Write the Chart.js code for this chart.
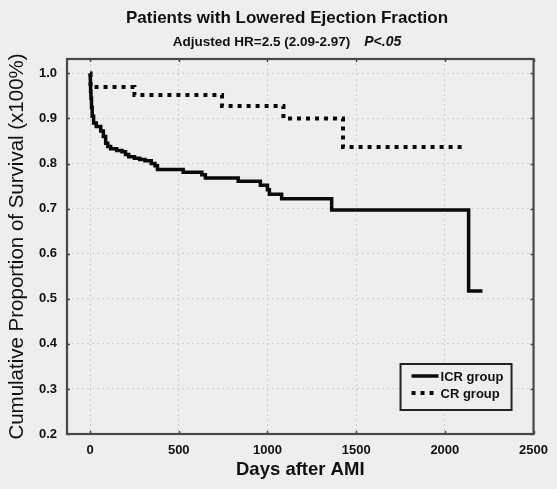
<!DOCTYPE html>
<html>
<head>
<meta charset="utf-8">
<script src="https://cdn.jsdelivr.net/npm/chart.js@4.4.1/dist/chart.umd.min.js"></script>
<style>
  html, body { margin: 0; padding: 0; background: #eeeeee; }
  canvas { display: block; }
</style>
</head>
<body>
<canvas id="km" width="557" height="489"></canvas>
<script>
// Kaplan-Meier survival, days after AMI
const icrDays = [0, 1, 2, 3, 5, 8, 12, 20, 35, 60, 75, 88, 100, 116, 150, 180, 200, 218, 250, 280, 310, 345, 366, 380, 525, 630, 650, 835, 960, 1000, 1011, 1080, 1362, 2134, 2212];
const icrSurvival = [1.0, 0.99, 0.975, 0.96, 0.945, 0.925, 0.905, 0.89, 0.882, 0.872, 0.86, 0.845, 0.838, 0.833, 0.829, 0.826, 0.82, 0.815, 0.812, 0.809, 0.806, 0.80, 0.795, 0.787, 0.781, 0.775, 0.768, 0.761, 0.752, 0.742, 0.732, 0.722, 0.697, 0.517, 0.517];
const crDays = [0, 3, 250, 744, 1090, 1426, 2110];
const crSurvival = [1.0, 0.97, 0.952, 0.928, 0.90, 0.837, 0.837];

const seriesNames = ['ICR group', 'CR group'];
const xTicks = [0, 500, 1000, 1500, 2000, 2500];
const yTicks = [0.2, 0.3, 0.4, 0.5, 0.6, 0.7, 0.8, 0.9, 1.0];

const titleText = 'Patients with Lowered Ejection Fraction';
const subtitleText = 'Adjusted HR=2.5 (2.09-2.97)';
const pValueText = 'P<.05';
const xAxisTitle = 'Days after AMI';
const yAxisTitle = 'Cumulative Proportion of Survival (x100%)';

const FONT = '"Liberation Sans", Arial, Helvetica, sans-serif';
const INK = '#111111';
const FRAME = '#474747';

function toPoints(xs, ys) {
    return xs.map((x, i) => ({ x: x, y: ys[i] }));
}

// frame round the plot plus short inward tick marks on all four sides
const framePlugin = {
    id: 'frame',
    beforeDatasetsDraw(chart) {
        const { ctx, chartArea: a, scales } = chart;
        ctx.save();
        ctx.strokeStyle = FRAME;
        ctx.lineWidth = 1.5;
        scales.x.ticks.forEach(t => {
            const px = Math.round(scales.x.getPixelForValue(t.value)) + 0.5;
            ctx.beginPath();
            ctx.moveTo(px, a.bottom); ctx.lineTo(px, a.bottom - 3);
            ctx.moveTo(px, a.top); ctx.lineTo(px, a.top + 3);
            ctx.stroke();
        });
        scales.y.ticks.forEach(t => {
            const py = Math.round(scales.y.getPixelForValue(t.value)) + 0.5;
            ctx.beginPath();
            ctx.moveTo(a.left, py); ctx.lineTo(a.left + 3, py);
            ctx.moveTo(a.right, py); ctx.lineTo(a.right - 3, py);
            ctx.stroke();
        });
        ctx.lineWidth = 2.2;
        ctx.strokeRect(a.left, a.top, a.right - a.left, a.bottom - a.top);
        ctx.restore();
    }
};

// boxed legend in the lower right corner of the plot
const boxLegendPlugin = {
    id: 'boxLegend',
    afterDatasetsDraw(chart) {
        const { ctx, chartArea: a } = chart;
        const w = 111, h = 46;
        const x0 = a.right - 22 - w;
        const y0 = a.bottom - 24 - h;
        ctx.save();
        ctx.fillStyle = '#eeeeee';
        ctx.fillRect(x0, y0, w, h);
        ctx.strokeStyle = '#222222';
        ctx.lineWidth = 2;
        ctx.strokeRect(x0, y0, w, h);
        ctx.font = 'bold 13px ' + FONT;
        ctx.textBaseline = 'middle';
        ctx.fillStyle = INK;
        chart.data.datasets.forEach((ds, i) => {
            const ry = y0 + 12 + i * 17;
            ctx.save();
            ctx.strokeStyle = ds.borderColor;
            ctx.lineWidth = ds.borderWidth;
            ctx.setLineDash(ds.borderDash || []);
            ctx.beginPath();
            ctx.moveTo(x0 + 11, ry);
            ctx.lineTo(x0 + 38, ry);
            ctx.stroke();
            ctx.restore();
            ctx.fillText(ds.label, x0 + 40, ry + 1);
        });
        ctx.restore();
    }
};

// two-line heading; the p-value is set in italics
const headingPlugin = {
    id: 'heading',
    afterDraw(chart) {
        const ctx = chart.ctx;
        const cx = 287;
        ctx.save();
        ctx.fillStyle = INK;
        ctx.textBaseline = 'middle';
        ctx.textAlign = 'center';
        ctx.font = 'bold 17px ' + FONT;
        ctx.fillText(titleText, cx, 18);

        ctx.textAlign = 'left';
        const gap = 14;
        ctx.font = 'bold 13.5px ' + FONT;
        const w1 = ctx.measureText(subtitleText).width;
        ctx.font = 'italic bold 14px ' + FONT;
        const w2 = ctx.measureText(pValueText).width;
        const start = cx - (w1 + gap + w2) / 2;
        ctx.font = 'bold 13.5px ' + FONT;
        ctx.fillText(subtitleText, start, 42);
        ctx.font = 'italic bold 14px ' + FONT;
        ctx.fillText(pValueText, start + w1 + gap, 42);
        ctx.restore();
    }
};

new Chart(document.getElementById('km'), {
    type: 'line',
    data: {
        datasets: [
            {
                label: seriesNames[0],
                data: toPoints(icrDays, icrSurvival),
                borderColor: '#0a0a0a',
                borderWidth: 3.5,
                stepped: 'before',
                pointRadius: 0,
                fill: false
            },
            {
                label: seriesNames[1],
                data: toPoints(crDays, crSurvival),
                borderColor: '#0a0a0a',
                borderWidth: 4,
                borderDash: [4, 5],
                borderCapStyle: 'butt',
                stepped: 'before',
                pointRadius: 0,
                fill: false
            }
        ]
    },
    options: {
        responsive: false,
        animation: false,
        layout: { padding: { top: 59, right: 15, bottom: 0, left: 0 } },
        plugins: {
            legend: { display: false },
            tooltip: { enabled: false }
        },
        scales: {
            x: {
                type: 'linear',
                min: -130,
                max: 2500,
                afterBuildTicks: s => { s.ticks = xTicks.map(v => ({ value: v })); },
                afterFit: s => { s.height = 55; },
                grid: { color: '#cdcdcd', lineWidth: 1, drawTicks: false },
                border: { display: false, dash: [2, 3] },
                ticks: {
                    padding: 9,
                    color: INK,
                    font: { family: FONT, size: 13, weight: 'bold' },
                    maxRotation: 0,
                    callback: v => String(v)
                },
                title: {
                    display: true,
                    text: xAxisTitle,
                    color: INK,
                    font: { family: FONT, size: 18.5, weight: 'bold' },
                    padding: { top: 0, bottom: 8 }
                }
            },
            y: {
                type: 'linear',
                min: 0.2,
                max: 1.032,
                afterBuildTicks: s => { s.ticks = yTicks.map(v => ({ value: v })); },
                afterFit: s => { s.width = 67; },
                grid: { color: '#cdcdcd', lineWidth: 1, drawTicks: false },
                border: { display: false, dash: [2, 3] },
                ticks: {
                    padding: 10,
                    color: INK,
                    font: { family: FONT, size: 13, weight: 'bold' },
                    callback: v => Number(v).toFixed(1)
                },
                title: {
                    display: true,
                    text: yAxisTitle,
                    color: INK,
                    font: { family: FONT, size: 20.5 },
                    padding: { top: 5, bottom: 0 }
                }
            }
        }
    },
    plugins: [framePlugin, boxLegendPlugin, headingPlugin]
});
</script>
</body>
</html>
